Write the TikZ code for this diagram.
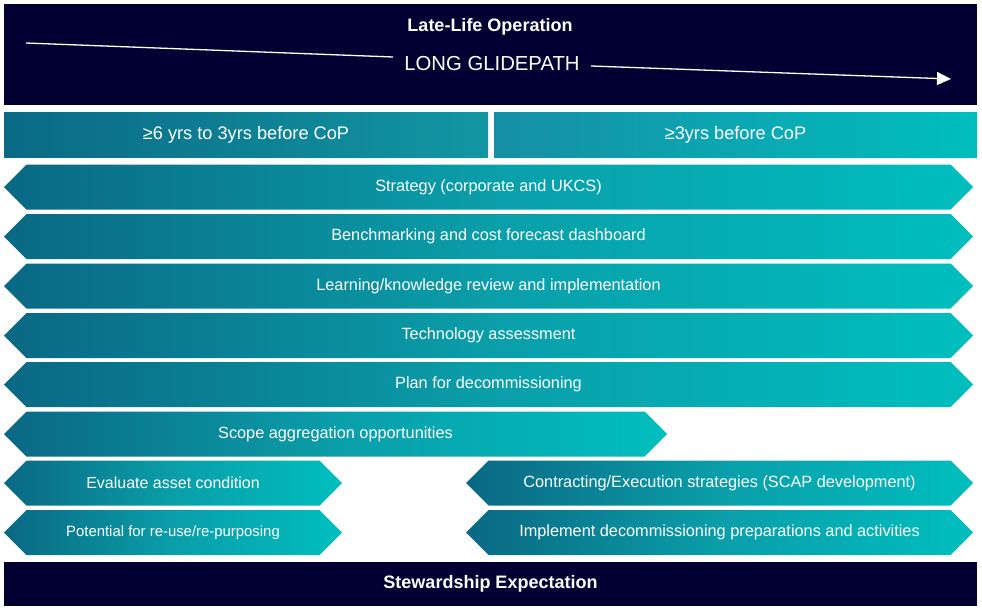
\documentclass[tikz,border=0pt]{standalone}
\usepackage{fontspec}
\setmainfont{Liberation Sans}
\usetikzlibrary{shapes.symbols,arrows.meta}
\definecolor{navy}{HTML}{020033}
\definecolor{tealdark}{HTML}{0A6884}
\definecolor{tealmid}{HTML}{0A9EA9}
\definecolor{tealbright}{HTML}{00BEBE}
\definecolor{hdrA}{HTML}{0A6A86}
\definecolor{hdrB}{HTML}{1296A2}
\definecolor{hdrC}{HTML}{168FA6}
\begin{document}
\begin{tikzpicture}[x=1pt,y=-1pt,
  bar/.style={fill=navy, draw=none, inner sep=0pt, minimum width=973pt, text=white},
  hdr/.style={rectangle, inner sep=0pt, minimum height=45pt, text=white, font=\fontsize{18.2}{20}\selectfont},
  arr/.style={signal, signal to=west and east, signal pointer angle=90, inner sep=0pt, minimum height=45pt,
    left color=tealdark, right color=tealbright, middle color=tealmid, text=white, font=\fontsize{16.3}{18}\selectfont},
  glide/.style={draw=white, line width=1.3pt},
]
\path[use as bounding box, fill=white] (0,0) rectangle (982,610);

% top bar
\node[bar, minimum height=101pt] (top) at (490.5,54.5) {};
\node[text=white, font=\fontsize{18}{20}\selectfont\bfseries] (title) at (490,26.5) {Late-Life Operation};
\node[text=white, font=\fontsize{20.3}{22}\selectfont, inner sep=0pt] (lg) at (492,64) {LONG GLIDEPATH};
\coordinate (g1) at (26,43);
\coordinate (g2) at (393,57);
\coordinate (g3) at (591,66);
\coordinate (g4) at (951,79);
\draw[glide] (g1) -- (g2);
\draw[glide, -{Triangle[length=14pt,width=13pt]}] (g3) -- (g4);

% headers
\node[hdr, minimum width=484pt, left color=hdrA, right color=hdrB] (h1) at (246,135) {≥6 yrs to 3yrs before CoP};
\node[hdr, minimum width=483pt, left color=hdrC, right color=tealbright] (h2) at (735.5,135) {≥3yrs before CoP};

% arrows
\node[arr, minimum width=969pt] (a1) at (488.5,187) {Strategy (corporate and UKCS)};
\node[arr, minimum width=969pt] (a2) at (488.5,236.5) {Benchmarking and cost forecast dashboard};
\node[arr, minimum width=969pt] (a3) at (488.5,286) {Learning/knowledge review and implementation};
\node[arr, minimum width=969pt] (a4) at (488.5,335.5) {Technology assessment};
\node[arr, minimum width=969pt] (a5) at (488.5,384.5) {Plan for decommissioning};
\node[arr, minimum width=663pt] (a6) at (335.5,434) {Scope aggregation opportunities};
\node[arr, minimum width=338pt, font=\fontsize{16}{18}\selectfont] (a7) at (173,483) {Evaluate asset condition};
\node[arr, minimum width=338pt, font=\fontsize{14.9}{17}\selectfont] (a8) at (173,532.5) {Potential for re-use/re-purposing};
\node[arr, minimum width=507pt] (a9) at (719.5,483) {Contracting/Execution strategies (SCAP development)};
\node[arr, minimum width=507pt] (a10) at (719.5,532.5) {Implement decommissioning preparations and activities};

% bottom bar
\node[bar, minimum height=44pt, font=\fontsize{18}{20}\selectfont\bfseries] (bottom) at (490.5,584) {Stewardship Expectation};
\end{tikzpicture}
\end{document}
